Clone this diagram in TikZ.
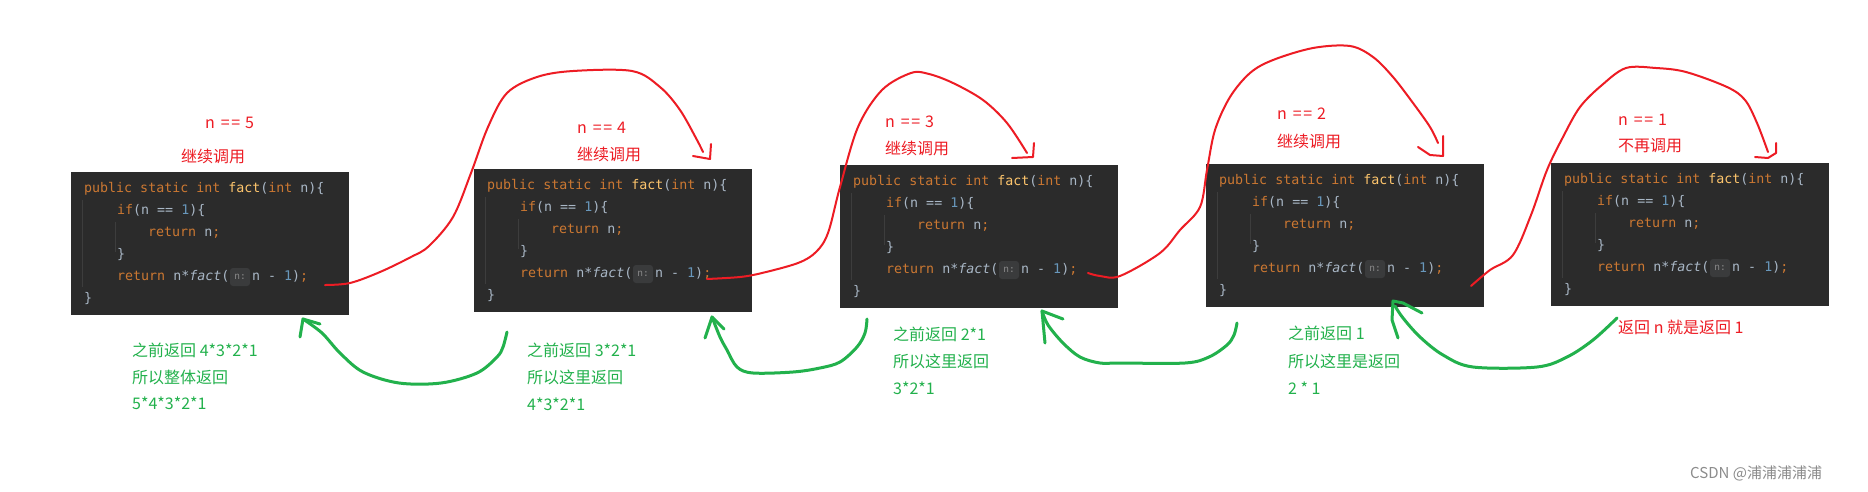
\documentclass[tikz,border=0pt]{standalone}
\usepackage{fontspec}
\setmonofont{DejaVu Sans Mono}
\newfontfamily\cjk{Noto Sans CJK SC}
\definecolor{kw}{HTML}{CC7832}
\definecolor{fn}{HTML}{FFC66D}
\definecolor{idc}{HTML}{A9B7C6}
\definecolor{num}{HTML}{6897BB}
\definecolor{bg}{HTML}{2B2B2B}
\definecolor{hintbg}{HTML}{3A3B3C}
\definecolor{hintfg}{HTML}{8A8A8A}
\definecolor{guide}{HTML}{3D3D3D}
\definecolor{pred}{HTML}{ED1C24}
\definecolor{pgreen}{HTML}{22B14C}
\tikzset{
  codebg/.style={fill=bg, draw=none, minimum width=278pt, minimum height=143pt, anchor=north west, inner sep=0pt, outer sep=0pt},
  codeline/.style={anchor=west, inner sep=0pt, text height=10pt, text depth=3pt, font=\ttfamily\fontsize{13.3}{14}\selectfont},
  hintbox/.style={fill=hintbg, rounded corners=3pt},
  hinttext/.style={inner sep=0pt, text=hintfg, font=\ttfamily\fontsize{9.5}{10}\selectfont},
  lbl/.style={anchor=west, inner sep=0pt, font=\cjk\fontsize{16}{18}\selectfont},
  redlbl/.style={lbl, text=pred},
  greenlbl/.style={lbl, text=pgreen},
  callline/.style={draw=pred, line width=2pt, line cap=round, line join=round},
  retline/.style={draw=pgreen, line width=3pt, line cap=round, line join=round},
  guideline/.style={draw=guide, line width=1pt},
}
\newcommand\neqn[1]{n\hspace{6pt}=\hspace{1.5pt}=\hspace{5pt}#1}
\newcommand\codeblock[3]{%
  \node[codebg] (#1) at (#2,#3) {};
  \begin{scope}[shift={(#1.north west)}]
    \draw[guideline] (11,28) -- (11,115);
    \draw[guideline] (44,50) -- (44,80);
    \node[codeline] (#1l1) at (13,17) {\textcolor{kw}{public static int} \textcolor{fn}{fact}\textcolor{idc}{(}\textcolor{kw}{int} \textcolor{idc}{n)\{}};
    \node[codeline] (#1l2) at (46,39) {\textcolor{kw}{if}\textcolor{idc}{(n == }\textcolor{num}{1}\textcolor{idc}{)\{}};
    \node[codeline] (#1l3) at (77,61) {\textcolor{kw}{return} \textcolor{idc}{n}\textcolor{kw}{;}};
    \node[codeline] (#1l4) at (46,83) {\textcolor{idc}{\}}};
    \node[codeline] (#1l5) at (46,105) {\textcolor{kw}{return} \textcolor{idc}{n*\textit{fact}(}};
    \fill[hintbox] (159,96) rectangle (179,114);
    \node[hinttext] (#1h) at (169,105) {n:};
    \node[codeline] (#1l5b) at (181,105) {\textcolor{idc}{n - }\textcolor{num}{1}\textcolor{idc}{)}\textcolor{kw}{;}};
    \node[codeline] (#1l6) at (13,127) {\textcolor{idc}{\}}};
  \end{scope}}
\begin{document}
\begin{tikzpicture}[x=1pt, y=-1pt]
\useasboundingbox[fill=white] (0,0) rectangle (1868,491);

\codeblock{box1}{71}{172}
\codeblock{box2}{474}{169}
\codeblock{box3}{840}{165}
\codeblock{box4}{1206}{164}
\codeblock{box5}{1551}{163}

% red labels
\node[redlbl] (n5) at (205,123) {\neqn{5}};
\node[redlbl] (c5) at (181,156) {继续调用};
\node[redlbl] (n4) at (577,128) {\neqn{4}};
\node[redlbl] (c4) at (577,154) {继续调用};
\node[redlbl] (n3) at (885,122) {\neqn{3}};
\node[redlbl] (c3) at (885,148) {继续调用};
\node[redlbl] (n2) at (1277,114) {\neqn{2}};
\node[redlbl] (c2) at (1277,141) {继续调用};
\node[redlbl] (n1) at (1618,120) {\neqn{1}};
\node[redlbl] (c1) at (1618,146) {不再调用};
\node[redlbl] (r1) at (1618,327) {返回 n 就是返回 1};

% green labels
\node[greenlbl] (g1a) at (132,350) {之前返回 4*3*2*1};
\node[greenlbl] (g1b) at (132,377) {所以整体返回};
\node[greenlbl] (g1c) at (132,403) {5*4*3*2*1};
\node[greenlbl] (g2a) at (527,350) {之前返回 3*2*1};
\node[greenlbl] (g2b) at (527,377) {所以这里返回};
\node[greenlbl] (g2c) at (527,404) {4*3*2*1};
\node[greenlbl] (g3a) at (893,334) {之前返回 2*1};
\node[greenlbl] (g3b) at (893,361) {所以这里返回};
\node[greenlbl] (g3c) at (893,388) {3*2*1};
\node[greenlbl] (g4a) at (1288,333) {之前返回 1};
\node[greenlbl] (g4b) at (1288,361) {所以这里是返回};
\node[greenlbl] (g4c) at (1288,388) {2 * 1};

% watermark
\node[lbl, text=black!45, font=\cjk\fontsize{15}{17}\selectfont] (wm) at (1690,473) {CSDN @浦浦浦浦浦};

% red call curves
\draw[callline] plot[smooth, tension=0.55] coordinates {(325,285) (350,283) (380,272) (411,257) (429,246) (453,217) (471,173) (488,127) (507,93) (537,77) (573,71) (632,71) (660,87) (680,110) (697,140) (703,152)};
\draw[callline] (711,144) -- (710,159) -- (693,156);

\draw[callline] plot[smooth, tension=0.55] coordinates {(707,279) (740,277) (762,273) (798,263) (816,252) (828,233) (840,187) (858,127) (882,90) (911,73) (929,74) (953,83) (983,100) (1007,123) (1027,153)};
\draw[callline] (1034,143) -- (1033,157) -- (1012,158);

\draw[callline] plot[smooth, tension=0.55] coordinates {(1088,273) (1100,276) (1120,276) (1160,253) (1180,230) (1200,207) (1207,170) (1215,130) (1230,97) (1250,73) (1273,60) (1313,48) (1350,46) (1373,57) (1393,77) (1413,103) (1430,127) (1438,143)};
\draw[callline] (1443,136) -- (1443,156) -- (1430,155) -- (1418,147);

\draw[callline] plot[smooth, tension=0.55] coordinates {(1471,286) (1490,270) (1513,255) (1531,215) (1547,170) (1563,137) (1580,107) (1602,85) (1626,68) (1656,68) (1686,72) (1727,87) (1745,100) (1757,123) (1768,152)};
\draw[callline] (1776,143) -- (1776,153) -- (1768,158) -- (1755,157);

% green return curves
\draw[retline] plot[smooth, tension=0.55] coordinates {(507,332) (503,347) (497,357) (477,373) (441,383) (399,383) (363,372) (340,353) (322,333) (303,319)};
\draw[retline] (300,337) -- (303,319) -- (320,324);

\draw[retline] plot[smooth, tension=0.55] coordinates {(867,319) (865,333) (857,347) (840,362) (820,368) (793,372) (753,373) (737,367) (727,350) (720,337) (712,317)};
\draw[retline] (705,338) -- (712,317) -- (724,329);

\draw[retline] plot[smooth, tension=0.55] coordinates {(1237,323) (1234,335) (1227,345) (1209,357) (1185,363) (1120,363) (1100,363) (1080,357) (1063,343) (1048,325) (1042,311)};
\draw[retline] (1045,343) -- (1042,311) -- (1063,319);

\draw[retline] plot[smooth, tension=0.55] coordinates {(1617,318) (1593,340) (1567,357) (1537,367) (1473,367) (1443,355) (1420,337) (1403,318) (1395,306)};
\draw[retline] (1398,338) -- (1392,320) -- (1393,301) -- (1403,303) -- (1422,313);
\end{tikzpicture}
\end{document}
